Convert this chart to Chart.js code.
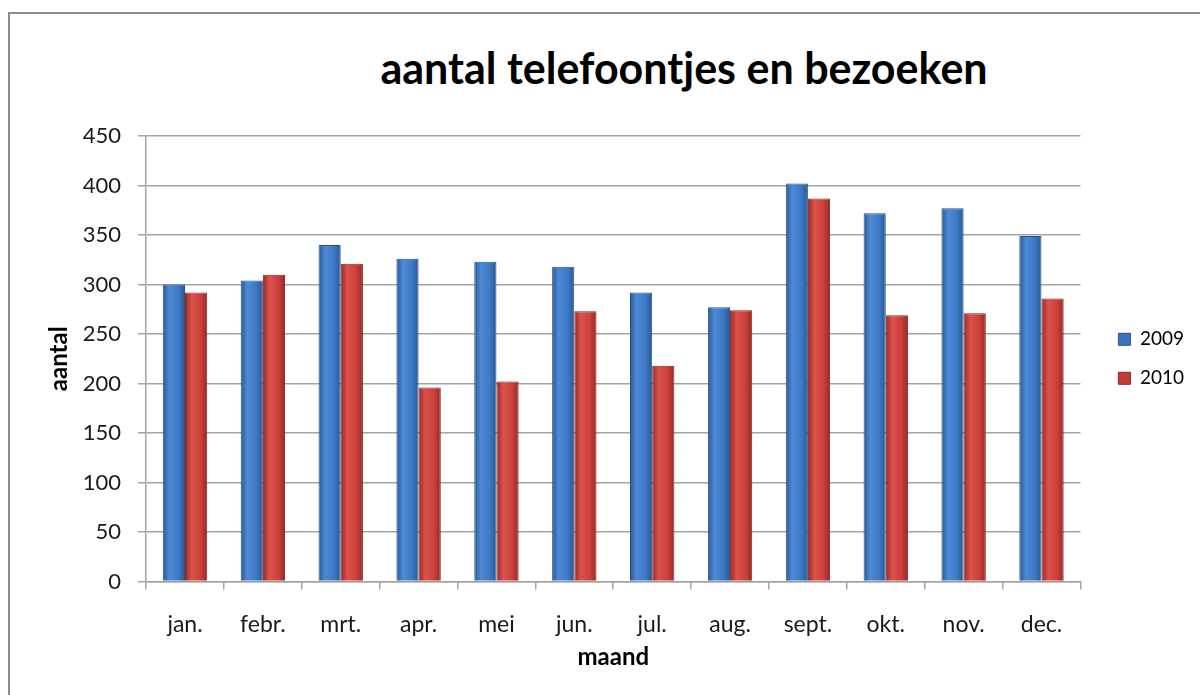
<!DOCTYPE html>
<html>
<head>
<meta charset="utf-8">
<script src="https://cdn.jsdelivr.net/npm/chart.js@4"></script>
<style>
  body { margin: 0; background: #fff; overflow: hidden; }
  #wrap { position: relative; width: 1200px; height: 695px; overflow: hidden; }
  #frame { position: absolute; left: 8px; top: 12px; width: 1300px; height: 800px; border: 2px solid #8c8c8c; }
  #title { position: absolute; left: 684px; top: 46px; transform: translateX(-50%); white-space: nowrap;
           font-family: Lato, sans-serif; font-weight: bold; font-size: 43px; line-height: 1; color: #000; }
  canvas { position: absolute; left: 0; top: 0; }
</style>
</head>
<body>
<div id="wrap">
  <div id="frame"></div>
  <div id="title">aantal telefoontjes en bezoeken</div>
  <canvas id="chart" width="1200" height="695"></canvas>
</div>
<script>
const months = ['jan.', 'febr.', 'mrt.', 'apr.', 'mei', 'jun.', 'jul.', 'aug.', 'sept.', 'okt.', 'nov.', 'dec.'];
const values2009 = [300, 304, 340, 326, 323, 318, 292, 277, 402, 372, 377, 349];
const values2010 = [292, 310, 321, 196, 202, 273, 218, 274, 387, 269, 271, 286];
const yTicks = [0, 50, 100, 150, 200, 250, 300, 350, 400, 450];

const catPct = 0.57;
const shades = [
    { dark: '#2a5894', light: '#4d8bd6', mid: '#3d79c4', border: '#28528a', flat: '#3a74bd' },
    { dark: '#982825', light: '#dc524d', mid: '#cc403c', border: '#8a2522', flat: '#c43a36' }
];

// horizontal gradient over each bar, built from the x scale
function barFill(ctx, ds) {
    const chart = ctx.chart;
    const x = chart.scales.x;
    if (!chart.chartArea || !x || ctx.dataIndex === undefined) return shades[ds].flat;
    const c = x.getPixelForValue(ctx.dataIndex);
    const half = x.width / months.length * catPct / 2;
    const left = ds === 0 ? c - half : c;
    const right = ds === 0 ? c : c + half;
    const g = chart.ctx.createLinearGradient(left, 0, right, 0);
    g.addColorStop(0, shades[ds].dark);
    g.addColorStop(0.3, shades[ds].light);
    g.addColorStop(0.7, shades[ds].mid);
    g.addColorStop(1, shades[ds].dark);
    return g;
}

const gridColor = '#a4a4a4';
const axisTitleFont = { family: 'Lato, sans-serif', size: 24, weight: 'bold' };

new Chart(document.getElementById('chart'), {
    type: 'bar',
    data: {
        labels: months,
        datasets: [
            { label: '2009', data: values2009, backgroundColor: (c) => barFill(c, 0), borderColor: shades[0].border, borderWidth: 1 },
            { label: '2010', data: values2010, backgroundColor: (c) => barFill(c, 1), borderColor: shades[1].border, borderWidth: 1 }
        ]
    },
    options: {
        responsive: false,
        animation: false,
        devicePixelRatio: 1,
        layout: { padding: { top: 136, left: 44, right: 6, bottom: 19 } },
        datasets: { bar: { categoryPercentage: catPct, barPercentage: 1 } },
        plugins: {
            title: { display: false },
            tooltip: { enabled: false },
            legend: {
                position: 'right',
                fullSize: false,
                labels: {
                    boxWidth: 12, boxHeight: 12, padding: 20, color: '#000',
                    font: { family: 'Lato, sans-serif', size: 19 },
                    generateLabels: (chart) => chart.data.datasets.map((d, i) => ({
                        text: d.label, fillStyle: shades[i].flat, strokeStyle: shades[i].border,
                        lineWidth: 1, datasetIndex: i, hidden: false
                    }))
                }
            }
        },
        scales: {
            x: {
                offset: true,
                grid: { display: true, drawOnChartArea: false, tickLength: 8, color: gridColor, lineWidth: 1.5, offset: true },
                border: { color: gridColor, width: 1.5 },
                ticks: { color: '#1a1a1a', font: { family: 'Lato, sans-serif', size: 23 }, padding: 21, maxRotation: 0 },
                title: { display: true, text: 'maand', color: '#000', font: axisTitleFont, padding: { top: -16, bottom: 4 } }
            },
            y: {
                min: 0, max: 450,
                afterBuildTicks: (s) => { s.ticks = yTicks.map(v => ({ value: v })); },
                grid: { color: gridColor, lineWidth: 1.5, tickLength: 8 },
                border: { color: gridColor, width: 1.5 },
                ticks: { color: '#1a1a1a', font: { family: 'Lato, sans-serif', size: 22 }, padding: 17 },
                title: { display: true, text: 'aantal', color: '#000', font: axisTitleFont, padding: { top: 1, bottom: -8 } }
            },
            gap: {
                position: 'right',
                display: true,
                grid: { display: false, drawOnChartArea: false },
                border: { display: false },
                ticks: { display: false },
                afterFit: (s) => { s.width = 18; }
            }
        }
    }
});
</script>
</body>
</html>
